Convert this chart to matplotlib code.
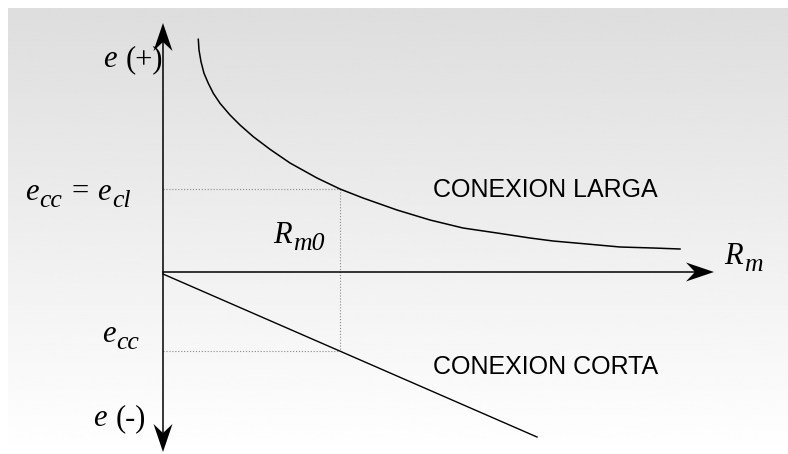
import numpy as np
import matplotlib.pyplot as plt
from matplotlib.patches import Polygon

# conexion larga: e frente a Rm
larga_rm = [3.53, 3.6, 3.8, 4.1, 4.53, 5.03, 5.7, 6.7, 7.7, 9.03, 10.7, 12.7,
            15.4, 17.7, 20.0, 23.4, 26.7, 30.0, 33.4, 36.7, 39.0, 42.4, 45.7,
            49.0, 51.7]
larga_e = [23.27, 22.2, 21.03, 19.87, 18.87, 17.87, 16.87, 15.7, 14.7, 13.53,
           12.27, 10.9, 9.4, 8.3, 7.4, 6.2, 5.2, 4.4, 3.9, 3.4, 3.1, 2.8, 2.5,
           2.4, 2.3]

# conexion corta: recta
corta_rm = [0.0, 37.4]
corta_e = [-0.2, -16.5]

# punto de igualdad
rm0 = 17.7
e_cl = 8.3
e_cc = -7.9

fig = plt.figure(figsize=(7.88, 4.54), dpi=100)
ax = fig.add_axes([0, 0, 1, 1])
ax.set_xlim(-16.3, 62.5)
ax.set_ylim(-18.2, 27.2)
ax.axis('off')

# fondo degradado gris -> blanco
grad = np.linspace(0, 1, 256).reshape(-1, 1)
ax.imshow(grad, cmap='gray', vmin=-6.6, vmax=1.0, extent=(-15.5, 62.5, -18.2, 26.4),
          aspect='auto', origin='upper', zorder=0, interpolation='bicubic')


def arrow_head(ax, tip, direction, length=2.8, half=0.95, notch=0.9):
    tx, ty = tip
    dx, dy = direction
    px, py = -dy, dx
    bx, by = tx - dx * length, ty - dy * length
    pts = [(tx, ty),
           (bx + px * half, by + py * half),
           (tx - dx * (length - notch), ty - dy * (length - notch)),
           (bx - px * half, by - py * half)]
    ax.add_patch(Polygon(pts, closed=True, color='black', lw=0, zorder=5))


renderer = fig.canvas.get_renderer()


def label(x, y, pieces):
    # pieces: (texto, tamano, estilo, bajada en pt); None = espacio
    off = 0.0
    for p in pieces:
        if p is None:
            off += 5.5
            continue
        s, size, style, drop = p
        t = ax.annotate(s, (x, y), xytext=(off, -drop), textcoords='offset points',
                        family='Liberation Serif', fontsize=size, fontstyle=style,
                        ha='left', va='baseline', color='black')
        off += t.get_window_extent(renderer).width * 72 / fig.dpi + 0.8


B, S = 22, 18.5
it, rm = 'italic', 'normal'

# ejes
ax.plot([0, 0], [-17.0, 24.0], color='black', lw=1.1, zorder=4)
ax.plot([0, 54.0], [0, 0], color='black', lw=1.1, zorder=4)
arrow_head(ax, (0, 24.9), (0, 1))
arrow_head(ax, (0, -18.0), (0, -1))
arrow_head(ax, (55.1, 0), (1, 0))

# curvas
ax.plot(larga_rm, larga_e, color='black', lw=1.1, zorder=3)
ax.plot(corta_rm, corta_e, color='black', lw=1.0, zorder=3)

# lineas de referencia
dot = dict(color='#888888', lw=0.8, linestyle=':', zorder=2)
ax.plot([0, rm0], [e_cl, e_cl], **dot)
ax.plot([rm0, rm0], [e_cl, e_cc], **dot)
ax.plot([0, rm0], [e_cc, e_cc], **dot)

label(-6.0, 20.5, [('e', B, it, 0), None, ('(+)', B, rm, 0)])
label(-13.8, 7.2, [('e', B, it, 0), ('cc', S, it, 5), None, ('=', B, rm, 0), None,
                   ('e', B, it, 0), ('cl', S, it, 5)])
label(11.0, 2.9, [('R', B, it, 0), ('m0', S, it, 5)])
label(56.1, 0.8, [('R', B, it, 0), ('m', S, it, 5)])
label(-6.1, -7.0, [('e', B, it, 0), ('cc', S, it, 5)])
label(-7.0, -15.4, [('e', B, it, 0), None, ('(-)', B, rm, 0)])

sans = dict(family='Liberation Sans', fontsize=18, color='black')
ax.text(27.0, 7.5, 'CONEXION LARGA', ha='left', va='baseline', **sans)
ax.text(27.0, -10.2, 'CONEXION CORTA', ha='left', va='baseline', **sans)

fig.savefig('out.png', dpi=100)
